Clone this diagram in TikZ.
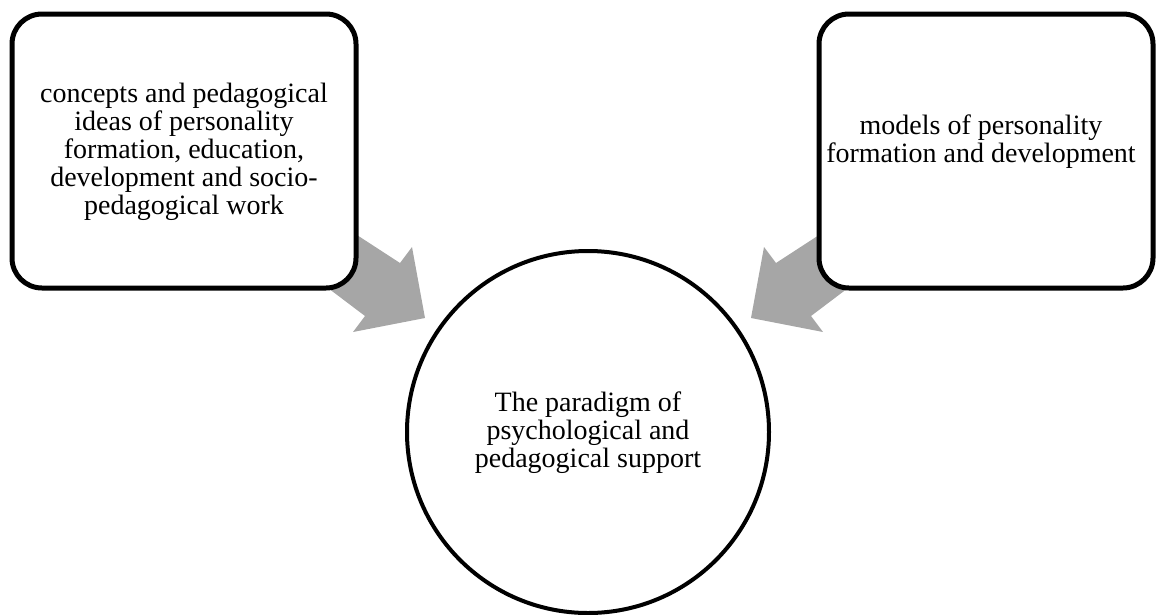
\documentclass[tikz,border=0pt]{standalone}
\usepackage{fontspec}
\setmainfont{Liberation Serif}
\definecolor{arrowgray}{HTML}{A6A6A6}
\begin{document}
\begin{tikzpicture}[x=1pt,y=-1pt,
  txt/.style={font=\fontsize{28}{28}\selectfont, align=center},
  box/.style={draw=black, line width=5pt, rounded corners=30pt, fill=white,
    minimum height=274pt, inner sep=0pt},
  circ/.style={circle, draw=black, line width=4pt, fill=white,
    minimum size=362pt, inner sep=0pt},
  blockarrow/.style={fill=arrowgray, draw=none}]
\useasboundingbox (0,0) rectangle (1157,614);
% block arrows (behind the boxes)
\fill[blockarrow] (320,211) -- (400,263) -- (412,247) -- (425,318) -- (353,332) -- (365,316) -- (320,282) -- cycle;
\fill[blockarrow] (856,211) -- (776,263) -- (764,247) -- (751,318) -- (823,332) -- (811,316) -- (856,282) -- cycle;
% boxes
\node[box, minimum width=344pt] (left) at (184,151) {};
\node[box, minimum width=334pt] (right) at (986,151) {};
\node[circ] (center) at (588,432) {};
% texts
\node[txt] (lefttext) at (184,152) {concepts and pedagogical\\ideas of personality\\formation, education,\\development and socio-\\pedagogical work};
\node[txt] (righttext) at (981,142) {models of personality\\formation and development};
\node[txt] (centertext) at (588,433) {The paradigm of\\psychological and\\pedagogical support};
\end{tikzpicture}
\end{document}
